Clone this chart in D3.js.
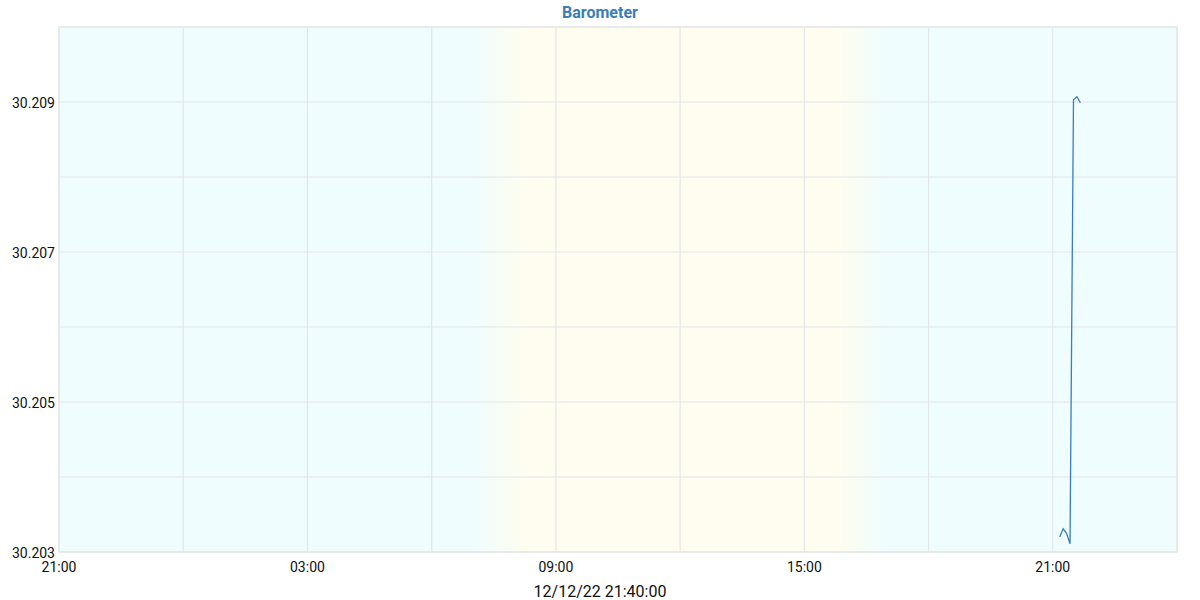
<!DOCTYPE html>
<html><head><meta charset="utf-8">
<script src="https://cdn.jsdelivr.net/npm/d3@7/dist/d3.min.js"></script>
<style>body{margin:0;background:#fff}svg{display:block;font-family:Roboto,sans-serif}</style>
</head><body><svg id="c" width="1200" height="600"></svg>
<script>
const times = ["2022-12-12T21:10","2022-12-12T21:15","2022-12-12T21:20","2022-12-12T21:25","2022-12-12T21:30","2022-12-12T21:35","2022-12-12T21:40"];
const pressure = [30.2032,30.20331,30.20325,30.20311,30.20903,30.20907,30.20899];
const yTicks = [30.203,30.204,30.205,30.206,30.207,30.208,30.209,30.210];
const yLabels = [30.203,30.205,30.207,30.209];
const xDomain = ["2022-12-11T21:00","2022-12-13T00:00"];
const daylight = {rise0:"2022-12-12T06:55", rise1:"2022-12-12T08:22", set0:"2022-12-12T15:44", set1:"2022-12-12T17:04"};
const title = "Barometer";
const dateLabel = "12/12/22 21:40:00";

const svg = d3.select("#c");
const m = {l:59, r:1177, t:27, b:552};
const parse = d3.timeParse("%Y-%m-%dT%H:%M");
const x = d3.scaleTime().domain(xDomain.map(parse)).range([m.l, m.r]);
const y = d3.scaleLinear().domain([30.203, 30.210]).range([m.b, m.t]);

const night = "#effdff", day = "#fffdef";
const defs = svg.append("defs");
const g = defs.append("linearGradient").attr("id","bg").attr("gradientUnits","userSpaceOnUse")
  .attr("x1", m.l).attr("x2", m.r).attr("y1",0).attr("y2",0);
const off = t => (x(parse(t)) - m.l) / (m.r - m.l);
[[0,night],[off(daylight.rise0),night],[off(daylight.rise1),day],[off(daylight.set0),day],[off(daylight.set1),night],[1,night]]
  .forEach(([o,c]) => g.append("stop").attr("offset", o).attr("stop-color", c));
svg.append("rect").attr("x", m.l).attr("y", m.t).attr("width", m.r-m.l).attr("height", m.b-m.t).attr("fill","url(#bg)");

// grid
const xTicks = x.ticks(d3.timeHour.every(3));
svg.append("g").selectAll("line").data(xTicks).join("line")
  .attr("x1", d=>x(d)).attr("x2", d=>x(d)).attr("y1", m.t).attr("y2", m.b)
  .attr("stroke","#e3e6e8").attr("stroke-width",1.2);
svg.append("g").selectAll("line").data(yTicks).join("line")
  .attr("x1", m.l).attr("x2", m.r).attr("y1", d=>y(d)).attr("y2", d=>y(d))
  .attr("stroke","#e3e6e8").attr("stroke-width",1.2);
svg.append("rect").attr("x", m.l).attr("y", m.t).attr("width", m.r-m.l).attr("height", m.b-m.t)
  .attr("fill","none").attr("stroke","#e3e6e8").attr("stroke-width",1.2);

// labels
svg.append("g").selectAll("text").data(yLabels).join("text")
  .attr("x", 55).attr("y", d=>y(d)+1).attr("dy","0.35em").attr("text-anchor","end")
  .attr("font-size",14).attr("fill","#111").text(d=>d.toFixed(3));
const xLab = xTicks.filter(d => d.getHours() % 6 === 3);
svg.append("g").selectAll("text").data(xLab).join("text")
  .attr("x", d=>x(d)).attr("y", 567).attr("dy","0.35em").attr("text-anchor","middle")
  .attr("font-size",14).attr("fill","#111").text(d3.timeFormat("%H:%M"));

svg.append("text").attr("x",600).attr("y",12).attr("dy","0.35em").attr("text-anchor","middle")
  .attr("font-size",16).attr("font-weight","bold").attr("fill","#3a7dbb").text(title);
svg.append("text").attr("x",600).attr("y",591).attr("dy","0.35em").attr("text-anchor","middle")
  .attr("font-size",16).attr("fill","#111").text(dateLabel);

// line
const data = times.map((t,i)=>({t:parse(t), v:pressure[i]}));
svg.append("path").datum(data)
  .attr("d", d3.line().x(d=>x(d.t)).y(d=>y(d.v)))
  .attr("fill","none").attr("stroke","#3a7dbb").attr("stroke-width",1.3);
</script></body></html>
